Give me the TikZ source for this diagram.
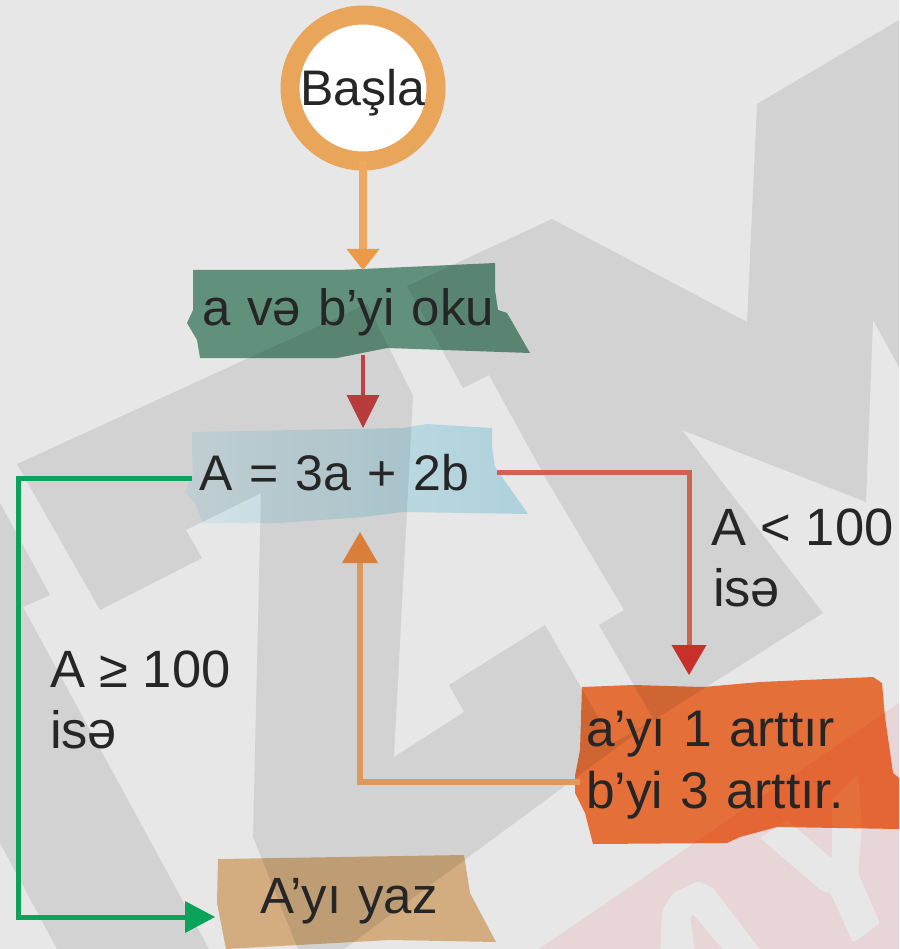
\documentclass[tikz,border=0pt]{standalone}
\usepackage{fontspec}
\setmainfont{Liberation Sans}
\usetikzlibrary{arrows.meta,calc}
\definecolor{bgc}{HTML}{E7E7E7}
\definecolor{wmgray}{HTML}{D2D2D2}
\definecolor{wmpink}{HTML}{E8D5D8}
\definecolor{ringc}{HTML}{E9A55A}
\definecolor{tapegreen}{HTML}{6CA18A}
\definecolor{tapeorange}{HTML}{FC7B3F}
\definecolor{tapetan}{HTML}{E9BF8E}
\definecolor{txt}{HTML}{262626}
\definecolor{blueL}{HTML}{EAFAFF}
\definecolor{blueM}{HTML}{C3E9F4}
\definecolor{blueR}{HTML}{BFE8F3}
\definecolor{lineA}{HTML}{EFA860}
\definecolor{headA}{HTML}{EA9A48}
\definecolor{lineB}{HTML}{C04048}
\definecolor{headB}{HTML}{B83C3C}
\definecolor{lineC}{HTML}{0BA25A}
\definecolor{lineD}{HTML}{CD6450}
\definecolor{headD}{HTML}{C8302C}
\definecolor{lineE}{HTML}{DD9A5C}
\definecolor{headE}{HTML}{D97F3A}
\tikzset{
  boxnode/.style={inner sep=0pt,outer sep=0pt,rectangle,anchor=center,text=txt,font=\fontsize{51}{62}\selectfont},
  free/.style={inner sep=0pt,outer sep=0pt,anchor=base west,text=txt,font=\fontsize{52.5}{61}\selectfont,align=left},
  conn/.style={line join=miter},
}
\begin{document}
\begin{tikzpicture}[x=1pt,y=-1pt]
\useasboundingbox (0,0) rectangle (899,949);
\clip (0,0) rectangle (899,949);
\fill[bgc] (0,0) rectangle (899,949);
% watermark
\fill[wmpink] (539,949) -- (899,703) -- (899,949) -- cycle;
\fill[bgc,rounded corners=3pt] (760,838) -- (787,820) -- (832,859) -- (832,800) -- (858,774) -- (862,827) -- (858,873) -- (880,923) -- (853,943) -- (830,892) -- (823,892) -- cycle;
\fill[bgc,rounded corners=3pt] (660,960) -- (662,910) -- (673,893) -- (698,881) -- (713,888) -- (768,960) -- (732,960) -- (693,914) -- (690,916) -- (696,960) -- cycle;
\fill[wmgray] (899,20) -- (757,104) -- (747,322) -- (552,219) -- (407,286) -- (463,388) -- (489,375) -- (545,477) -- (624,610) -- (599,625) -- (654,720) -- (823,613) -- (682,430) -- (866,502) -- (873,320) -- (899,367) -- cycle;
\fill[wmgray] (17,464) -- (367,304) -- (413,396) -- (394,757) -- (464,712) -- (449,685) -- (545,625) -- (613,743) -- (654,720) -- (344,949) -- (298,949) -- (253,837) -- (261,493) -- (186,530) -- (202,558) -- (100,610) -- cycle;
\fill[wmgray] (0,503) -- (50,595) -- (23,607) -- (209,949) -- (57,949) -- (0,843) -- cycle;
% tapes
\begin{scope}[blend mode=multiply]
\fill[tapegreen] (193,270) -- (340,270) -- (495,263) -- (495,290) -- (498,310) -- (507,313) -- (530,353) -- (387,348) -- (337,358) -- (200,358) -- (197,340) -- (187,323) -- (193,310) -- cycle;
\shade[left color=blueL,middle color=blueM,right color=blueR] (192,432) -- (403,428) -- (427,424) -- (492,428) -- (492,447) -- (495,467) -- (528,514) -- (403,512) -- (363,517) -- (280,523) -- (203,523) -- (195,503) -- (185,492) -- (193,473) -- (192,453) -- cycle;
\fill[tapeorange] (582,687) -- (633,685) -- (703,687) -- (760,682) -- (873,677) -- (882,683) -- (885,717) -- (893,773) -- (899,778) -- (899,829) -- (777,827) -- (740,837) -- (727,843) -- (593,844) -- (585,813) -- (575,793) -- (575,776) -- (580,750) -- cycle;
\fill[tapetan] (218,859) -- (464,855) -- (470,893) -- (496,942) -- (390,940) -- (226,949) -- (217,903) -- cycle;
\end{scope}
% nodes
\node[circle,minimum size=146pt,inner sep=0pt,outer sep=0pt,draw=ringc,line width=19pt,fill=white,text=txt,text height=36pt,text depth=0pt,font=\fontsize{50}{60}\selectfont] (start) at (363,88) {Başla};
\node[boxnode,minimum width=302pt,minimum height=85pt,text width=300pt,text height=38pt,text depth=13pt] (read) at (344,312.5) {\hspace*{8pt}a və b’yi oku};
\node[boxnode,minimum width=305pt,minimum height=88pt,text width=298pt,text height=38pt,text depth=2pt,font=\fontsize{50}{62}\selectfont] (calc) at (344.5,472) {\hspace*{4pt}A = 3a + 2b};
\node[boxnode,minimum width=305pt,minimum height=155pt,text width=298pt,align=left,font=\fontsize{51.5}{62}\selectfont] (update) at (732,765.5) {\hspace*{3pt}a’yı 1 arttır\\\hspace*{3pt}b’yi 3 arttır.};
\node[boxnode,minimum width=253pt,minimum height=92pt,text width=210pt,text height=36pt,text depth=16pt] (write) at (343.5,903) {\hspace*{21.5pt}A’yı yaz};
\node[free] (lt) at (711,545) {A < 100};
\node[free] (lt2) at (713,606) {isə};
\node[free] (ge) at (50,687) {A ≥ 100};
\node[free] (ge2) at (50,748) {isə};
\coordinate (rail) at (18,478);
% connectors
\draw[conn,draw=lineA,line width=8pt,-{Triangle[length=21pt,width=33pt,color=headA,line width=0pt]}] (start.south) -- (start.south |- read.north);
\draw[conn,draw=lineB,line width=4pt,-{Triangle[length=33pt,width=33pt,color=headB,line width=0pt]}] (start |- read.south) -- (start |- calc.north);
\draw[conn,draw=lineC,line width=5pt,-{Triangle[length=30pt,width=32pt,line width=0pt]}] ([yshift=-6pt]calc.west) -- (rail) |- ([yshift=-14pt,xshift=-2pt]write.west);
\draw[conn,draw=lineD,line width=5pt,shorten >=13pt,-{Triangle[length=30pt,width=35pt,color=headD,line width=0pt]}] (calc.east) -| ([xshift=-43pt]update.north);
\draw[conn,draw=lineE,line width=6pt,shorten >=16pt,-{Triangle[length=31pt,width=36pt,color=headE,line width=0pt]}] ([yshift=-16.5pt]update.west) -| ([xshift=15.5pt]calc.south);
\end{tikzpicture}
\end{document}
